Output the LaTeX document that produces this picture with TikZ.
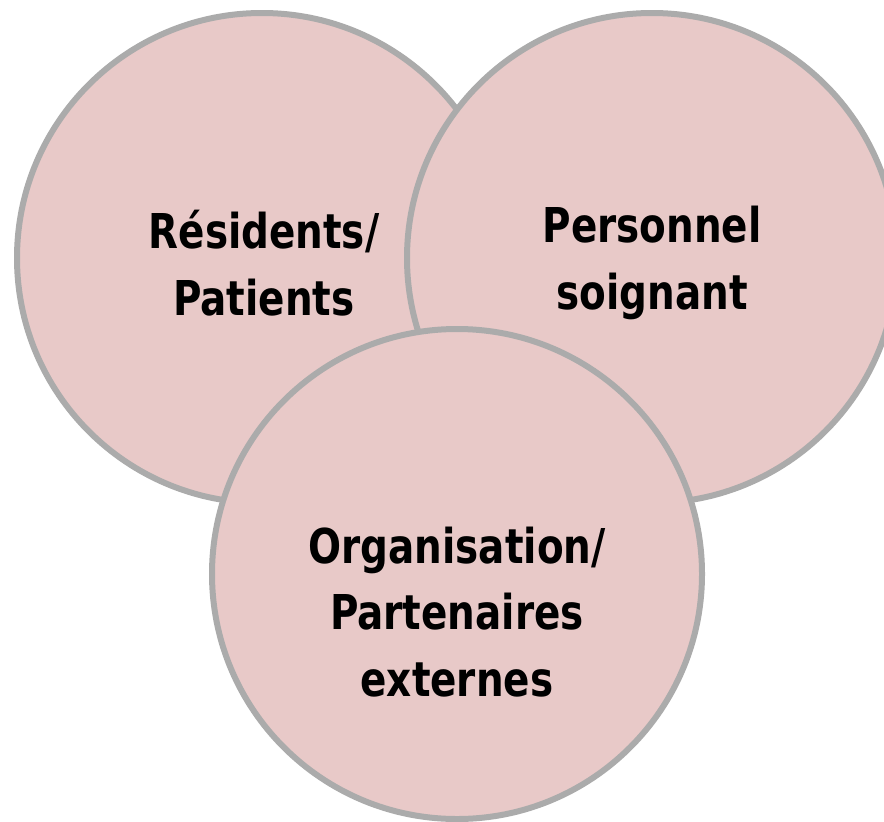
\documentclass[tikz,border=0pt]{standalone}
\usepackage{fontspec}
\setmainfont{DejaVu Sans Condensed}[FakeStretch=0.9]
\definecolor{rosepale}{HTML}{E8C9C8}
\definecolor{grisbord}{HTML}{ABABAB}
\tikzset{
  cercle/.style={circle, draw=grisbord, fill=rosepale, line width=4.5pt, minimum size=367.5pt, inner sep=0pt},
  etiquette/.style={align=center, font=\fontsize{36}{50}\selectfont\bfseries}
}
\begin{document}
\begin{tikzpicture}[x=0.75pt, y=-0.75pt]
  \useasboundingbox (0,0) rectangle (884,821);
  \begin{scope}
    \clip (0,0) rectangle (884,821);
    \node[cercle] (cres) at (262,258) {};
    \node[cercle] (cpers) at (652,258) {};
    \node[cercle] (corg) at (457,574) {};
  \end{scope}
  \node[etiquette] (res) at (264,263) {Résidents/\\Patients};
  \node[etiquette] (pers) at (652,263) {Personnel\\soignant};
  \node[etiquette] (org) at (457,612) {Organisation/\\Partenaires\\externes};
\end{tikzpicture}
\end{document}
